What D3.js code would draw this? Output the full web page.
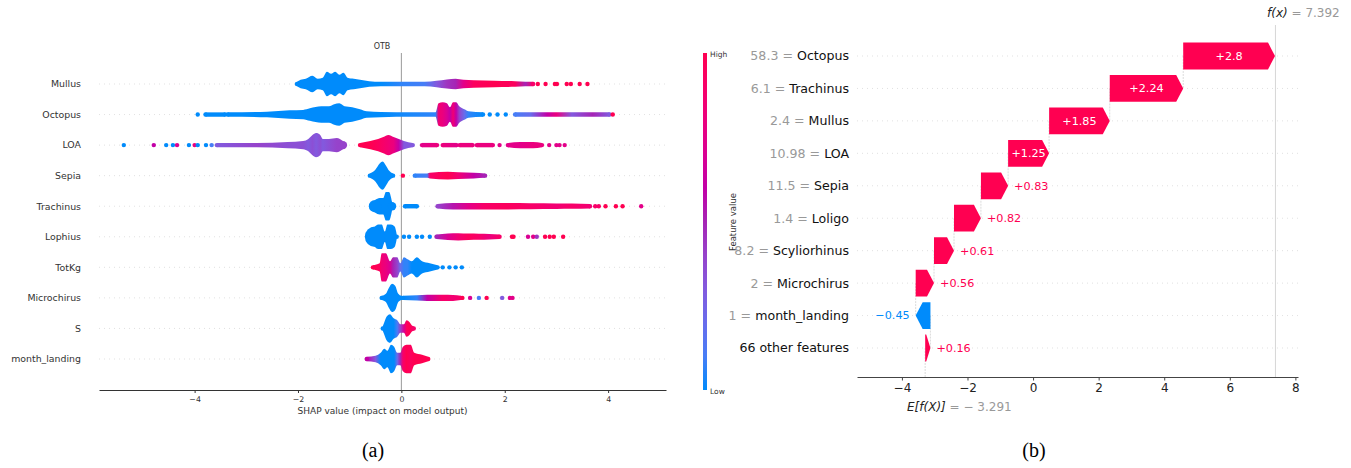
<!DOCTYPE html>
<html>
<head>
<meta charset="utf-8">
<script src="https://cdn.jsdelivr.net/npm/d3@7"></script>
<style>
body{margin:0;background:#fff;}
svg{display:block;font-family:"DejaVu Sans",sans-serif;}
</style>
</head>
<body>
<svg id="fig" width="1351" height="468"></svg>
<script>
// ---- panel (a): beeswarm summary ----
var features = ['Mullus','Octopus','LOA','Sepia','Trachinus','Lophius','TotKg','Microchirus','S','month_landing'];

// dense parts of each swarm:
// segments of [shap value, stacked dot layers, feature value 0(low)..1(high)]
var swarmSegs = [
	[[[-2.02,0,0],[-1.95,1,0],[-1.85,1.5,0],[-1.72,3,0],[-1.62,1.5,0],[-1.52,2,0],[-1.44,5,0],[-1.36,4,0],[-1.28,5,0],[-1.2,3.5,0],[-1.12,4.5,0],[-1.04,2,0],[-0.92,1.5,0],[-0.8,1,0],[-0.62,0.3,0],[-0.4,0,0],[0,0,0.05],[0.45,0,0.1],[0.68,0.5,0.3],[0.88,1.2,0.45],[1.05,1.5,0.5],[1.2,1,0.75],[1.4,0.8,0.95],[1.8,0.5,1],[2.2,0.3,0.95],[2.4,0,0.5],[2.55,0,0.9]]],
	[[[-3.79,0,0],[-3.41,0,0]],
	 [[-3.36,0,0],[-2.6,0.3,0],[-2.16,1,0],[-1.9,1.2,0],[-1.77,2,0],[-1.55,3,0],[-1.4,3,0],[-1.3,4,0],[-1.2,4.5,0],[-1.1,3,0],[-0.95,2.5,0],[-0.8,1.5,0],[-0.67,0.5,0],[-0.4,0.2,0],[0.2,0,0.02],[0.66,0,0.05],[0.72,4.5,0.85],[0.8,5,0.8],[0.88,4.5,0.7],[0.94,2.5,0.6],[1.0,5,0.85],[1.06,5,0.6],[1.12,3,0.4],[1.22,1.5,0.2],[1.3,0.5,0.05],[1.58,0,0]],
	 [[2.2,0,0.1],[2.5,0,0.2],[2.82,0,0.6],[3.0,0,0.8],[3.3,0,0.3],[3.7,0,0.5],[4.03,0,0.3]]],
	[[[-3.57,0,0.3],[-2.8,0,0.4],[-2.2,0.5,0.35],[-1.9,1,0.35],[-1.8,2,0.3],[-1.72,4,0.35],[-1.65,5,0.3],[-1.57,4,0.35],[-1.52,2,0.3],[-1.4,2,0.35],[-1.25,2.5,0.4],[-1.13,1,0.4]],
	 [[-0.8,0,1],[-0.6,1,1],[-0.45,2,0.95],[-0.35,3,0.9],[-0.25,4,0.85],[-0.15,3,0.8],[-0.05,2,0.6],[0.05,1,0.3],[0.22,0,0.3]],
	 [[0.4,0,0.75],[0.69,0,0.8]],[[0.8,0,0.8],[1.07,0,0.75]],[[1.13,0,0.8],[1.38,0,0.8]],[[1.46,0,0.8],[1.77,0,0.8]],
	 [[2.06,0,0.75],[2.3,0.5,0.75],[2.55,0.5,0.8],[2.72,0,0.8]]],
	[[[-0.61,0,0],[-0.5,2,0],[-0.42,5,0],[-0.36,6,0],[-0.3,4,0],[-0.24,1.5,0],[-0.16,0,0]],
	 [[0.26,0,0.05],[0.5,0,0.1],[0.55,0.3,0.9],[0.9,0.8,1],[1.1,0.6,0.85],[1.4,0.3,0.6],[1.62,0,0.5]]],
	[[[-0.51,2,0],[-0.42,3,0],[-0.35,3,0],[-0.3,6,0],[-0.24,6,0],[-0.18,1,0]],
	 [[0.07,0,0],[0.3,0,0]],
	 [[0.7,0,0.4],[1.0,0.5,0.55],[1.3,0.5,0.75],[1.6,0.5,0.9],[2.0,0.5,0.95],[2.5,0.4,0.9],[3.0,0.3,0.85],[3.3,0.2,0.9],[3.65,0,0.85]]],
	[[[-0.51,4,0],[-0.45,5,0],[-0.38,5,0],[-0.32,1.5,0],[-0.27,5,0],[-0.2,5,0],[-0.13,4,0],[-0.09,0,0]],
	 [[0.68,0,0.5],[0.9,0.5,0.7],[1.1,0.7,0.85],[1.3,0.5,0.95],[1.5,0.4,0.9],[1.7,0.3,0.8],[1.9,0,0.9]]],
	[[[-0.55,0,1],[-0.42,1,0.95],[-0.38,6,0.85],[-0.3,6,0.8],[-0.22,2,0.7],[-0.16,4,0.5],[-0.08,4,0.4],[-0.02,1,0.2],[0.05,4,0.05],[0.12,3,0.05],[0.2,2,0],[0.3,4,0],[0.4,2,0],[0.55,1,0],[0.7,0,0]]],
	[[[-0.38,0,0],[-0.3,1,0],[-0.24,4,0],[-0.18,6,0],[-0.12,5,0],[-0.06,1,0],[0,0,0]],
	 [[0.03,0,0],[0.3,0.2,0.05],[0.5,0.5,0.6],[0.8,0.5,0.9],[1.0,0.4,0.85],[1.15,0,0.9]]],
	[[[-0.36,0,0],[-0.33,2,0],[-0.28,5,0],[-0.22,6,0],[-0.15,4,0],[-0.08,3,0.1],[-0.02,1,0.4],[0.05,1,0.7],[0.1,3,0.95],[0.16,2,1],[0.2,0.5,0.95],[0.24,0,0.9]]],
	[[[-0.67,0,0.6],[-0.5,0.5,0.3],[-0.4,2,0],[-0.33,4,0],[-0.27,3,0],[-0.2,6,0],[-0.14,5,0],[-0.08,2,0.2],[-0.02,2,0.5],[0.03,5,0.9],[0.1,6,1],[0.18,6,0.95],[0.25,2,1],[0.4,1,1],[0.52,0,1]]]
];

// isolated points in the tails: [shap value, feature value]
var swarmDots = [
	[[2.64,1],[2.79,1],[2.97,1],[3.01,1],[3.2,1],[3.28,1],[3.45,1],[3.6,1]],
	[[-3.94,0],[1.71,0],[1.86,0],[2.02,0],[4.09,1]],
	[[-5.37,0],[-4.79,0.6],[-4.55,0],[-4.42,0],[-4.34,0.7],[-4.11,0],[-4.0,0.8],[-3.94,0],[-3.78,0],[-3.67,0.1],[1.9,0.75],[2.86,0.75],[3.0,0.75],[3.06,0.75],[3.16,0.75]],
	[[0.03,1]],
	[[3.75,0.9],[3.82,0.9],[3.95,1],[4.15,1],[4.28,1],[4.64,0.75]],
	[[0.05,0],[0.15,0],[0.3,0],[0.4,0],[0.55,0],[2.14,1],[2.17,1],[2.45,0.7],[2.55,0.75],[2.62,0.45],[2.78,1],[2.87,1],[2.95,1],[3.13,1]],
	[[0.8,0],[0.93,0],[1.05,0],[1.17,0]],
	[[1.18,1],[1.33,0.7],[1.5,0.1],[1.65,1],[1.95,0.3],[2.1,0.75],[2.15,0.75]],
	[],
	[]
];
var beeTicks = [-4,-2,0,2,4];

// ---- panel (b): waterfall ----
var wfNames = ['Octopus','Trachinus','Mullus','LOA','Sepia','Loligo','Scyliorhinus','Microchirus','month_landing','66 other features'];
var wfFeatVals = ['58.3','6.1','2.4','10.98','11.5','1.4','8.2','2','1',''];
var wfShap = [2.8,2.24,1.85,1.25,0.83,0.82,0.61,0.56,-0.45,0.16];
var baseValue = -3.291;
var fxValue = 7.392;
var wfTicks = [-4,-2,0,2,4,6,8];

var RED = '#ff0051', BLUE = '#008bfb';
var svg = d3.select('#fig');
var defs = svg.append('defs');

// shap red_blue map: blue -> purple -> red
var midCol = d3.hcl(323, 80, 42);
function shapColor(t){
	if (t <= 0.5) return d3.interpolateHcl(BLUE, midCol)(t*2);
	return d3.interpolateHcl(midCol, RED)((t-0.5)*2);
}
function minusFmt(d){ return d < 0 ? '\u2212' + (-d) : '' + d; }

function beeswarm(){
	var xa = d3.scaleLinear().domain([-5.85,5.12]).range([99,666]);
	var ya = d3.scalePoint().domain(features).range([84,359]);
	var top = 53, bottom = 390, dotR = 2.2;
	var g = svg.append('g');

	// dotted row lines
	g.selectAll('.grid').data(features).enter().append('line')
		.attr('x1',99).attr('x2',666)
		.attr('y1',function(d){return ya(d);}).attr('y2',function(d){return ya(d);})
		.attr('stroke','#cccccc').attr('stroke-width',0.6).attr('stroke-dasharray','1,4');

	g.append('line').attr('x1',xa(0)).attr('x2',xa(0)).attr('y1',top).attr('y2',bottom)
		.attr('stroke','#999').attr('stroke-width',1);

	g.selectAll('.flab').data(features).enter().append('text')
		.attr('x',81).attr('y',function(d){return ya(d);}).attr('dy','0.35em')
		.attr('text-anchor','end').attr('font-size',9.4).attr('fill','#333')
		.text(function(d){return d;});

	function half(n){ return dotR + n*2; }
	var area = d3.area().curve(d3.curveMonotoneX)
		.x(function(d){return xa(d[0]);})
		.y0(function(d){return -half(d[1]);})
		.y1(function(d){return half(d[1]);});

	features.forEach(function(f,fi){
		var row = g.append('g').attr('transform','translate(0,'+ya(f)+')');
		swarmSegs[fi].forEach(function(seg,si){
			var x0 = xa(seg[0][0]), x1 = xa(seg[seg.length-1][0]);
			var id = 'sw'+fi+'_'+si;
			var grad = defs.append('linearGradient').attr('id',id)
				.attr('gradientUnits','userSpaceOnUse')
				.attr('x1',x0).attr('x2',x1).attr('y1',0).attr('y2',0);
			grad.selectAll('stop').data(seg).enter().append('stop')
				.attr('offset',function(d){return (xa(d[0])-x0)/(x1-x0);})
				.attr('stop-color',function(d){return shapColor(d[2]);});
			row.append('path').attr('d',area(seg)).attr('fill','url(#'+id+')');
			row.selectAll('.cap'+si).data([seg[0],seg[seg.length-1]]).enter().append('circle')
				.attr('cx',function(d){return xa(d[0]);}).attr('cy',0)
				.attr('r',function(d){return half(d[1]);})
				.attr('fill',function(d){return shapColor(d[2]);});
		});
		row.selectAll('.dot').data(swarmDots[fi]).enter().append('circle')
			.attr('cx',function(d){return xa(d[0]);}).attr('cy',0).attr('r',dotR)
			.attr('fill',function(d){return shapColor(d[1]);});
	});

	var ax = g.append('g').attr('transform','translate(0,'+bottom+')')
		.call(d3.axisBottom(xa).tickValues(beeTicks).tickSize(3).tickSizeOuter(0).tickFormat(minusFmt));
	ax.select('.domain').attr('stroke','#333');
	ax.selectAll('.tick line').attr('stroke','#333');
	ax.selectAll('text').attr('font-size',7.8).attr('fill','#333').attr('font-family','DejaVu Sans');

	g.append('text').attr('x',382.5).attr('y',414).attr('text-anchor','middle')
		.attr('font-size',9).attr('fill','#333').text('SHAP value (impact on model output)');
	g.append('text').attr('x',382).attr('y',49).attr('text-anchor','middle')
		.attr('font-size',8).attr('fill','#333').text('OTB');

	// colour bar
	var cb = defs.append('linearGradient').attr('id','cbar')
		.attr('x1',0).attr('x2',0).attr('y1',1).attr('y2',0);
	cb.selectAll('stop').data(d3.range(0,1.01,0.1)).enter().append('stop')
		.attr('offset',function(d){return d;})
		.attr('stop-color',function(d){return shapColor(d);});
	g.append('rect').attr('x',703).attr('y',top).attr('width',4).attr('height',bottom-top)
		.attr('fill','url(#cbar)');
	g.append('text').attr('x',710).attr('y',57).attr('font-size',7.5).attr('fill','#333').text('High');
	g.append('text').attr('x',710).attr('y',394).attr('font-size',7.5).attr('fill','#333').text('Low');
	g.append('text').attr('transform','translate(736,222) rotate(-90)').attr('text-anchor','middle')
		.attr('font-size',8.5).attr('fill','#333').text('Feature value');
}

function waterfall(){
	var xb = d3.scaleLinear().domain([-5.37,8.08]).range([857,1298]);
	var yb = d3.scalePoint().domain(wfNames).range([56,348]);
	var top = 25, bottom = 377, bh = 13.4, headMax = 7;
	var g = svg.append('g');

	g.selectAll('.grid').data(wfNames).enter().append('line')
		.attr('x1',857).attr('x2',1298)
		.attr('y1',function(d){return yb(d);}).attr('y2',function(d){return yb(d);})
		.attr('stroke','#cccccc').attr('stroke-width',0.6).attr('stroke-dasharray','1,4');

	// cumulative starts, from the base value at the bottom row upwards
	var bars = [], cur = baseValue;
	for (var i = wfNames.length-1; i >= 0; i--){
		bars[i] = {name: wfNames[i], val: wfFeatVals[i], s: wfShap[i], x0: cur, x1: cur + wfShap[i]};
		cur += wfShap[i];
	}

	// thin connectors between rows
	var conn = bars.slice(0,-1);
	g.selectAll('.conn').data(conn).enter().append('line')
		.attr('x1',function(d){return xb(d.x0);}).attr('x2',function(d){return xb(d.x0);})
		.attr('y1',function(d){return yb(d.name);})
		.attr('y2',function(d,i){return yb(wfNames[i+1]);})
		.attr('stroke','#cccccc').attr('stroke-width',0.7).attr('stroke-dasharray','2,1');
	g.append('line').attr('x1',xb(baseValue)).attr('x2',xb(baseValue))
		.attr('y1',yb(wfNames[wfNames.length-1])).attr('y2',bottom)
		.attr('stroke','#cccccc').attr('stroke-width',0.7).attr('stroke-dasharray','2,1');
	g.append('line').attr('x1',xb(fxValue)).attr('x2',xb(fxValue)).attr('y1',top).attr('y2',bottom)
		.attr('stroke','#cccccc').attr('stroke-width',0.8);

	function arrow(d){
		var y = yb(d.name), a = xb(d.x0), b = xb(d.x1);
		var w = Math.abs(b-a), hl = Math.min(headMax, w*0.8), dir = b > a ? 1 : -1;
		var p = [[a,y-bh],[b-dir*hl,y-bh],[b,y],[b-dir*hl,y+bh],[a,y+bh]];
		return 'M' + p.join('L') + 'Z';
	}
	g.selectAll('.bar').data(bars).enter().append('path')
		.attr('d',arrow)
		.attr('fill',function(d){return d.s > 0 ? RED : BLUE;});

	var labs = g.selectAll('.blab').data(bars).enter().append('text')
		.attr('y',function(d){return yb(d.name);}).attr('dy','0.35em')
		.attr('font-size',11.2)
		.text(function(d){return (d.s > 0 ? '+' : '\u2212') + Math.abs(d.s);});
	labs.each(function(d){
		var t = d3.select(this), tw = this.getComputedTextLength();
		var a = xb(d.x0), b = xb(d.x1);
		if (tw + 4 < Math.abs(b-a)){
			t.attr('x',(a+b)/2).attr('text-anchor','middle').attr('fill','#fff');
		} else if (d.s > 0){
			t.attr('x',b+6).attr('text-anchor','start').attr('fill',RED);
		} else {
			t.attr('x',b-6).attr('text-anchor','end').attr('fill',BLUE);
		}
	});

	var yl = g.selectAll('.ylab').data(bars).enter().append('text')
		.attr('x',849).attr('y',function(d){return yb(d.name);}).attr('dy','0.35em')
		.attr('text-anchor','end').attr('font-size',12.6);
	yl.append('tspan').attr('fill','#999').text(function(d){return d.val ? d.val + ' = ' : '';});
	yl.append('tspan').attr('fill','#111').text(function(d){return d.name;});

	var ax = g.append('g').attr('transform','translate(0,'+bottom+')')
		.call(d3.axisBottom(xb).tickValues(wfTicks).tickSize(3.5).tickSizeOuter(0).tickFormat(minusFmt));
	ax.select('.domain').attr('stroke','#444');
	ax.selectAll('.tick line').attr('stroke','#444');
	ax.selectAll('text').attr('font-size',12).attr('fill','#222').attr('font-family','DejaVu Sans');

	var ef = g.append('text').attr('x',907).attr('y',411).attr('font-size',12);
	ef.append('tspan').attr('fill','#222').attr('font-style','italic').text('E[f(X)]');
	ef.append('tspan').attr('fill','#999').text(' = \u2212 ' + Math.abs(baseValue));
	var fx = g.append('text').attr('x',1267).attr('y',17).attr('font-size',12);
	fx.append('tspan').attr('fill','#222').attr('font-style','italic').text('f(x)');
	fx.append('tspan').attr('fill','#999').text(' = ' + fxValue);
}

beeswarm();
waterfall();

svg.append('text').attr('x',373).attr('y',457).attr('text-anchor','middle')
	.attr('font-family','Liberation Serif').attr('font-size',20).attr('fill','#000').text('(a)');
svg.append('text').attr('x',1034).attr('y',457).attr('text-anchor','middle')
	.attr('font-family','Liberation Serif').attr('font-size',20).attr('fill','#000').text('(b)');
</script>
</body>
</html>
